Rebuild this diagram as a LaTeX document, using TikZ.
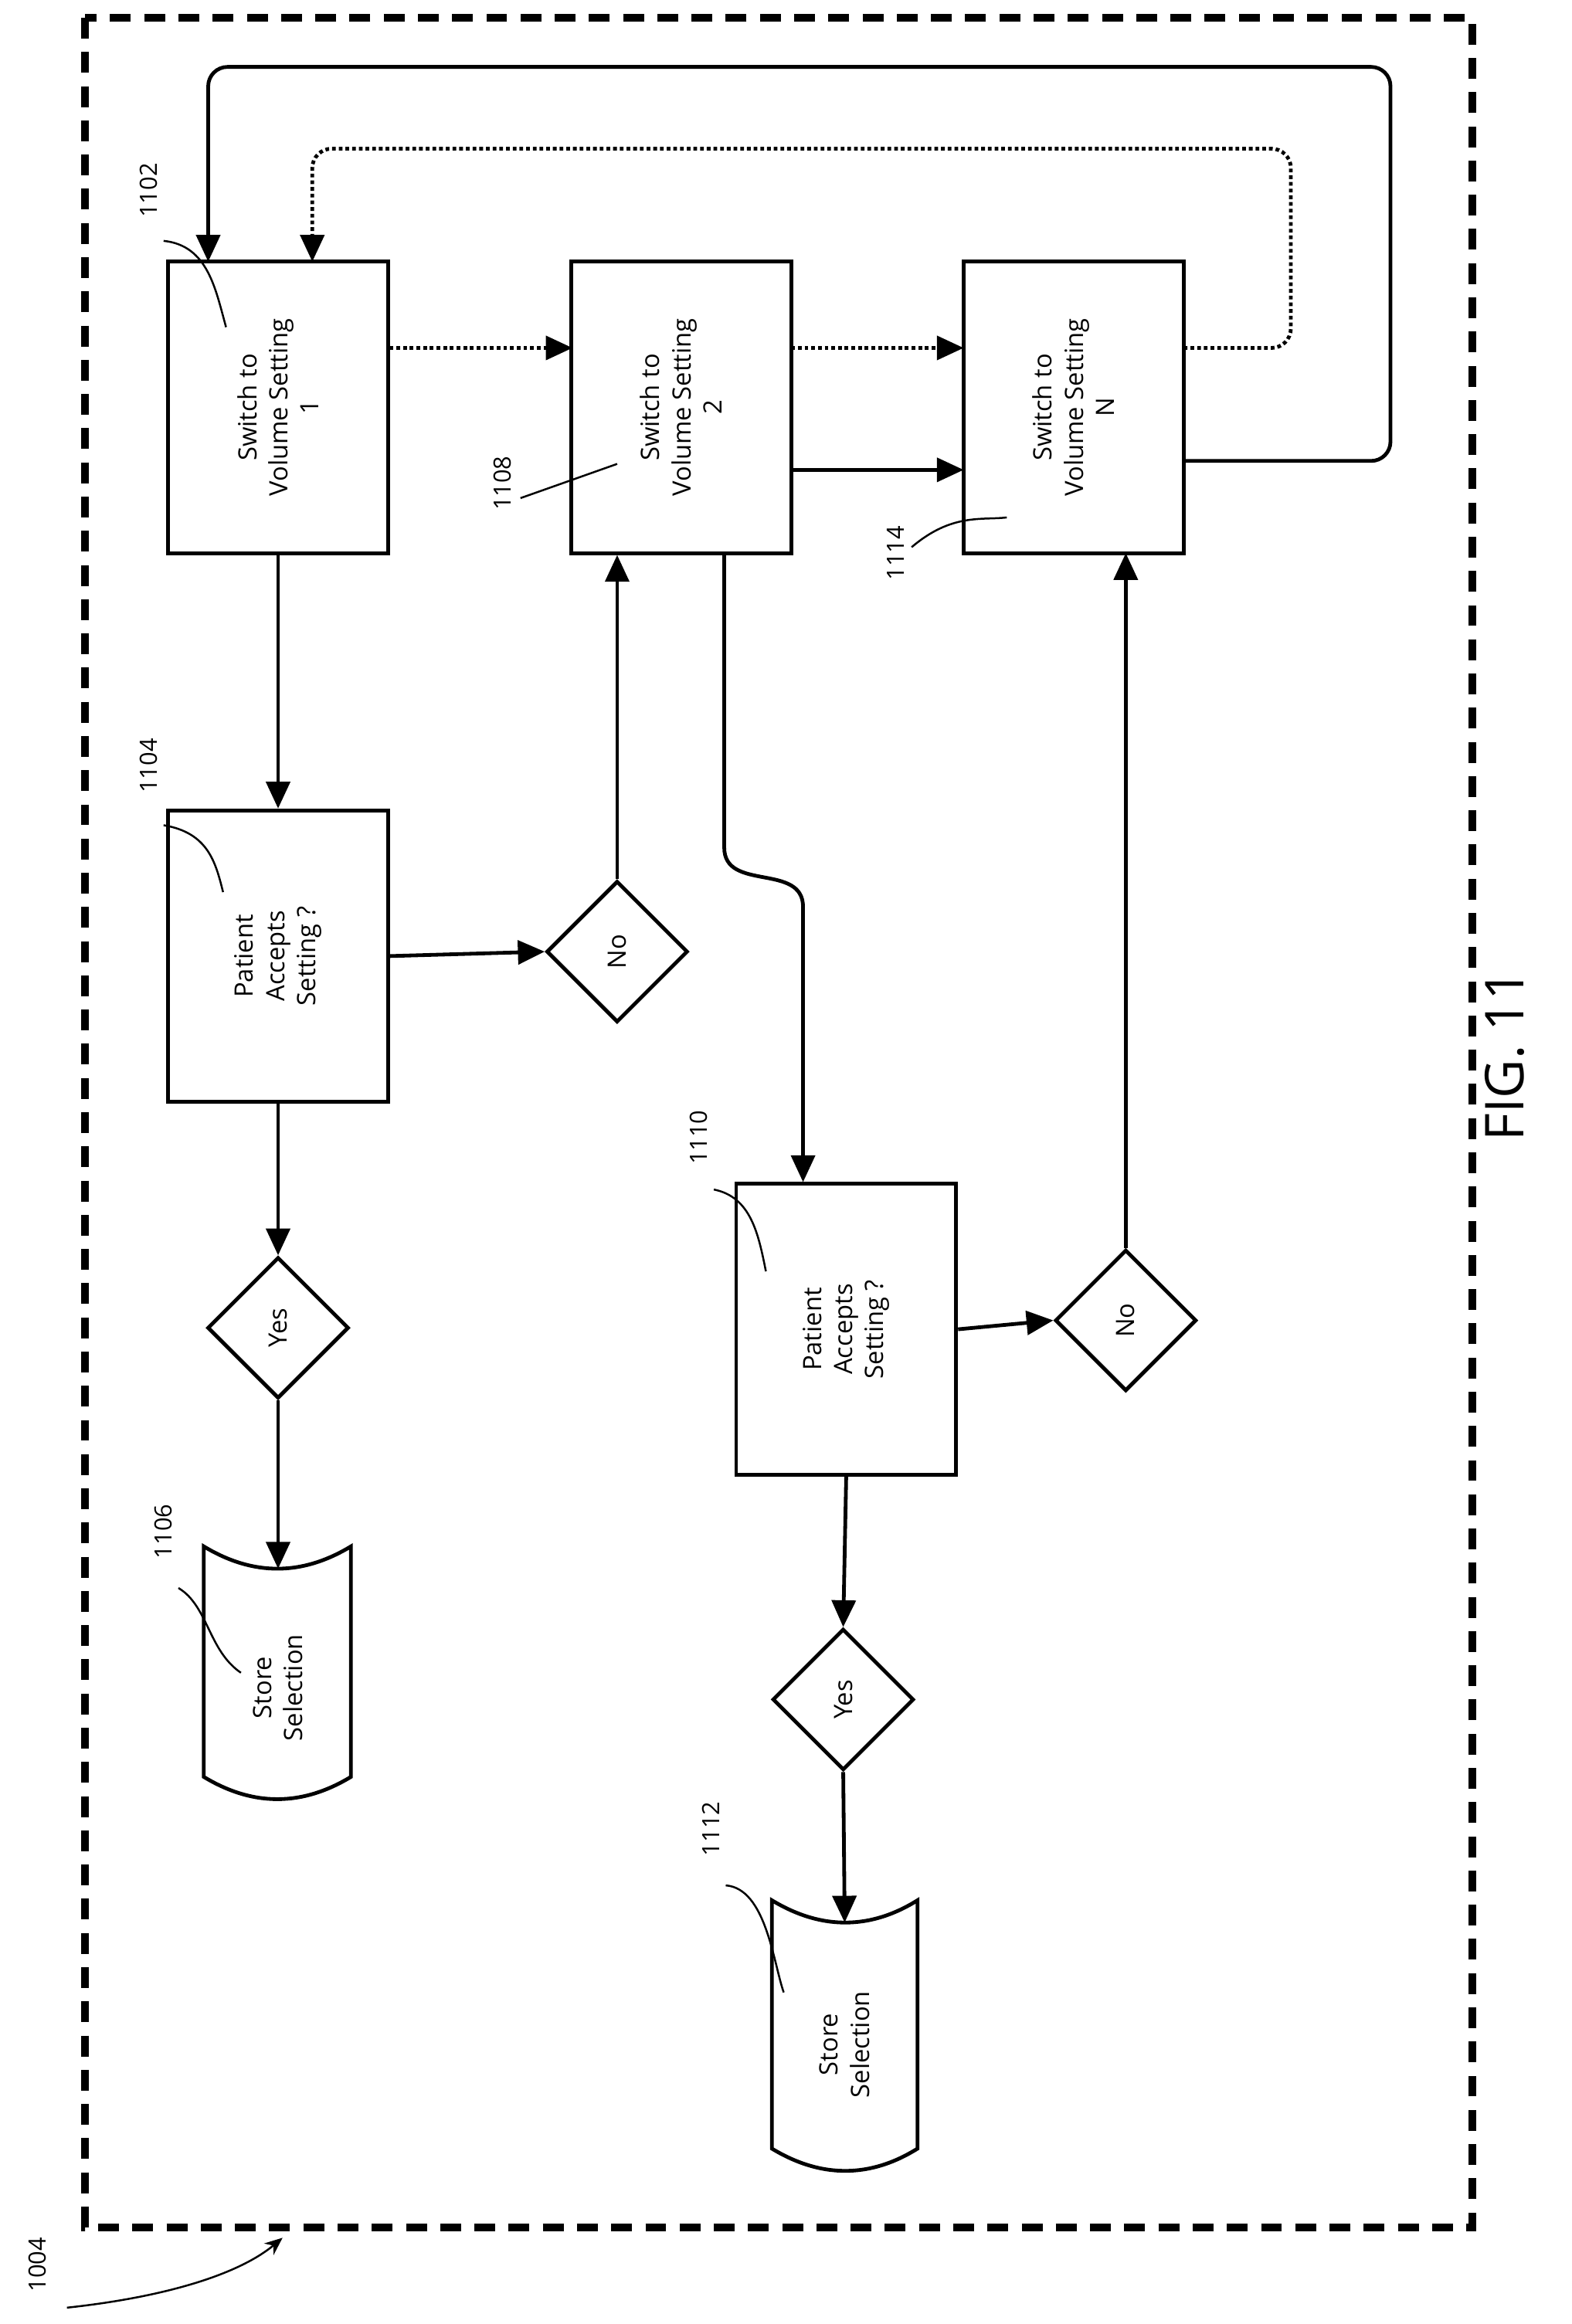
\documentclass[tikz,border=0pt]{standalone}
\usepackage{fontspec}
\setmainfont{Open Sans}
\usetikzlibrary{arrows.meta,shapes.geometric}
\begin{document}
\begin{tikzpicture}[x=1pt,y=-1pt,
  box/.style={draw,line width=2.5pt,minimum width=196pt,minimum height=148pt,rotate=90,align=center,font=\fontsize{17}{21}\selectfont},
  dia/.style={draw,line width=2.5pt,diamond,minimum width=95pt,minimum height=95pt,inner sep=0pt,rotate=90,font=\fontsize{17}{21}\selectfont},
  lab/.style={rotate=90,font=\fontsize{16}{19}\selectfont},
  arr/.style={line width=2.5pt,-{Triangle[length=18pt,width=16pt]}},
  dot/.style={line width=2.5pt,dotted,-{Triangle[length=18pt,width=16pt]}},
  lead/.style={line width=1.3pt}]
\useasboundingbox (0,0) rectangle (1057,1563);
\draw[line width=5pt,dash pattern=on 14pt off 9pt] (57,12) rectangle (990,1498);
\node[box] (b1) at (187,274) {Switch to\\Volume Setting\\1};
\node[box] (b2) at (458,274) {Switch to\\Volume Setting\\2};
\node[box] (b3) at (722,274) {Switch to\\Volume Setting\\N};
\node[box] (p1) at (187,643) {Patient\\Accepts\\Setting ?};
\node[box] (p2) at (569,894) {Patient\\Accepts\\Setting ?};
\node[dia] (n1) at (415,640) {No};
\node[dia] (y1) at (187,893) {Yes};
\node[dia] (n2) at (757,888) {No};
\node[dia] (y2) at (567,1143) {Yes};
% stores
\draw[line width=2.5pt] (137,1040) .. controls (170,1060) and (203,1060) .. (236,1040) -- (236,1195) .. controls (203,1215) and (170,1215) .. (137,1195) -- cycle;
\node[rotate=90,align=center,font=\fontsize{17}{21}\selectfont] (s1) at (187,1135) {Store\\Selection};
\coordinate (s1t) at (187,1055);
\draw[line width=2.5pt] (519,1278) .. controls (552,1298) and (585,1298) .. (617,1278) -- (617,1445) .. controls (585,1465) and (552,1465) .. (519,1445) -- cycle;
\node[rotate=90,align=center,font=\fontsize{17}{21}\selectfont] (s2) at (568,1375) {Store\\Selection};
\coordinate (s2t) at (568,1293);
% arrows
\draw[arr] (b1.west) -- (p1.east);
\draw[arr] (p1.south) -- (n1.north);
\draw[arr] (n1.east) -- (b2.west-|n1.east);
\draw[arr] (p1.west) -- (y1.east);
\draw[arr] (y1.west) -- (s1t);
\draw[arr] (487,372) -- (487,570) .. controls (487,600) and (540,580) .. (540,610) -- (540,795);
\draw[arr] (p2.south) -- (n2.north);
\draw[arr] (n2.east) -- (757,372);
\draw[arr] (p2.west) -- (y2.east);
\draw[arr] (y2.west) -- (s2t);
\draw[arr] (532,316) -- (648,316);
\draw[dot] (262,234) -- (385,234);
\draw[dot] (532,234) -- (648,234);
\draw[dot] (796,234) -- (855,234) arc[start angle=90,end angle=0,radius=13] -- (868,113) arc[start angle=0,end angle=-90,radius=13] -- (223,100) arc[start angle=-90,end angle=-180,radius=13] -- (210,176);
\draw[arr] (796,310) -- (922,310) arc[start angle=90,end angle=0,radius=13] -- (935,58) arc[start angle=0,end angle=-90,radius=13] -- (153,45) arc[start angle=-90,end angle=-180,radius=13] -- (140,176);
% labels
\node[lab] (l1102) at (100,128) {1102};
\draw[lead] (110,162) .. controls (140,165) and (145,195) .. (152,220);
\node[lab] (l1104) at (100,515) {1104};
\draw[lead] (110,555) .. controls (140,560) and (145,580) .. (150,600);
\node[lab] (l1106) at (110,1030) {1106};
\draw[lead] (120,1068) .. controls (140,1080) and (140,1110) .. (162,1125);
\node[lab] (l1108) at (338,325) {1108};
\draw[lead] (350,335) -- (415,312);
\node[lab] (l1110) at (470,765) {1110};
\draw[lead] (480,800) .. controls (505,805) and (510,830) .. (515,855);
\node[lab] (l1112) at (478,1230) {1112};
\draw[lead] (488,1268) .. controls (515,1270) and (520,1320) .. (527,1340);
\node[lab] (l1114) at (602,372) {1114};
\draw[lead] (613,368) .. controls (640,345) and (660,350) .. (677,348);
\node[lab] (l1004) at (25,1523) {1004};
\draw[lead,-{Stealth[length=12pt,width=10pt]}] (45,1552) .. controls (110,1545) and (160,1530) .. (190,1505);
\node[rotate=90,font=\fontsize{36}{40}\selectfont] (fig) at (1012,710) {FIG. 11};
\end{tikzpicture}
\end{document}
